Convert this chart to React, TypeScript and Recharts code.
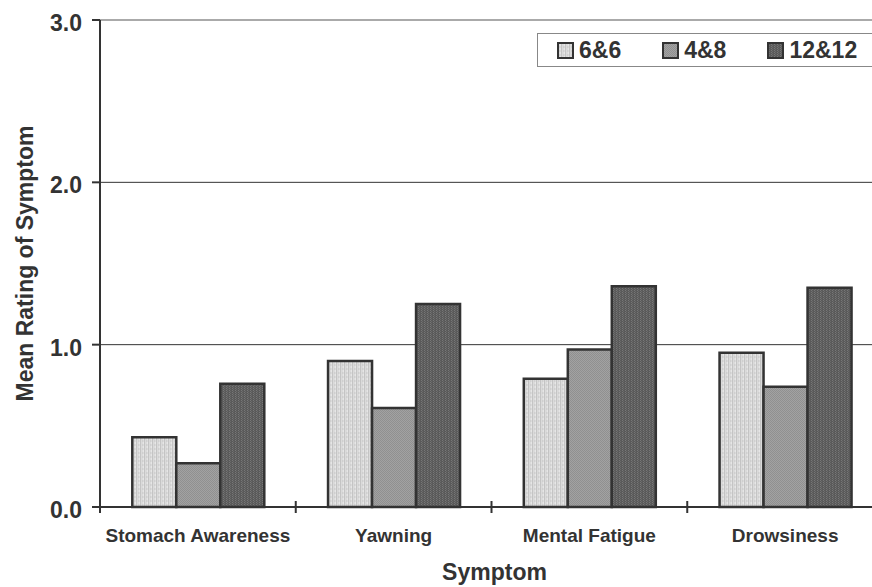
import React from 'react'
import {
  BarChart, Bar, XAxis, YAxis, CartesianGrid, Legend, ReferenceLine,
} from 'recharts'

const categories = ['Stomach Awareness', 'Yawning', 'Mental Fatigue', 'Drowsiness']
const series66 = [0.43, 0.9, 0.79, 0.95]
const series48 = [0.27, 0.61, 0.97, 0.74]
const series1212 = [0.76, 1.25, 1.36, 1.35]
const yTicks = [0, 1, 2, 3]

const seriesInfo = [
  { key: 's66', name: '6&6', fill: 'url(#p66)' },
  { key: 's48', name: '4&8', fill: 'url(#p48)' },
  { key: 's1212', name: '12&12', fill: 'url(#p1212)' },
]

const data = categories.map((c, i) => ({
  name: c,
  s66: series66[i],
  s48: series48[i],
  s1212: series1212[i],
}))

const FONT = '"Liberation Sans", Arial, sans-serif'
const INK = '#333'
const TICK_MARGIN = 22

function LegendBox() {
  return (
    <div
      style={{
        display: 'flex', alignItems: 'center', height: '100%',
        paddingLeft: 19, fontFamily: FONT, fontWeight: 'bold', fontSize: 23, color: INK,
      }}
    >
      {seriesInfo.map((s) => (
        <div key={s.key} style={{ display: 'flex', alignItems: 'center', marginRight: 41 }}>
          <svg width={17} height={17} style={{ marginRight: 5 }}>
            <rect x={1} y={1} width={15} height={15} fill={s.fill} stroke={INK} strokeWidth={2} />
          </svg>
          <span style={{ lineHeight: '23px' }}>{s.name}</span>
        </div>
      ))}
    </div>
  )
}

// category label, plus the little marks that cross the axis at the band edges
function CatTick(props: any) {
  const { x, y, payload, index, visibleTicksCount } = props
  const half = payload?.offset || 0
  const axisY = y - TICK_MARGIN
  const edges = [x - half]
  if (index === visibleTicksCount - 1) edges.push(x + half)
  return (
    <g>
      {edges.map((ex) => (
        <line key={ex} x1={ex} x2={ex} y1={axisY - 6} y2={axisY + 6} stroke={INK} strokeWidth={2} />
      ))}
      <text
        x={x} y={y} dy="0.71em" textAnchor="middle"
        fontFamily={FONT} fontWeight="bold" fontSize={19} fill={INK}
      >
        {payload.value}
      </text>
    </g>
  )
}

function YTitle(props: any) {
  const vb = props.viewBox || { x: 0, y: 20, width: 100, height: 487 }
  const cx = vb.x + 33
  const cy = vb.y + vb.height / 2
  return (
    <text
      x={cx} y={cy} transform={`rotate(-90, ${cx}, ${cy})`} textAnchor="middle"
      fontFamily={FONT} fontWeight="bold" fontSize={23} fill={INK}
    >
      Mean Rating of Symptom
    </text>
  )
}

function XTitle(props: any) {
  const vb = props.viewBox || { x: 100, y: 507, width: 783, height: 80 }
  return (
    <text
      x={vb.x + vb.width / 2 + 3} y={vb.y + 73} textAnchor="middle"
      fontFamily={FONT} fontWeight="bold" fontSize={23} fill={INK}
    >
      Symptom
    </text>
  )
}

export default function App() {
  return (
    <div style={{ position: 'absolute', left: 0, top: 0, width: 872, height: 587, overflow: 'hidden', background: '#fff' }}>
      <BarChart
        width={890} height={587} data={data}
        margin={{ top: 20, right: 7, bottom: 0, left: 0 }}
        barCategoryGap="16.5%" barGap={0}
      >
        <defs>
          <pattern id="p66" width={4} height={4} patternUnits="userSpaceOnUse">
            <rect width={4} height={4} fill="#dadada" />
            <rect x={0} width={1} height={4} fill="#c4c4c4" />
            <rect x={2} y={0} width={1} height={2} fill="#cfcfcf" />
            <rect x={3} y={2} width={1} height={2} fill="#e6e6e6" />
          </pattern>
          <pattern id="p48" width={2} height={2} patternUnits="userSpaceOnUse">
            <rect width={2} height={2} fill="#a2a2a2" />
            <rect x={0} y={0} width={1} height={1} fill="#909090" />
            <rect x={1} y={1} width={1} height={1} fill="#909090" />
          </pattern>
          <pattern id="p1212" width={3} height={2} patternUnits="userSpaceOnUse">
            <rect width={3} height={2} fill="#5a5a5a" />
            <rect x={1} y={0} width={1} height={1} fill="#777" />
            <rect x={2} y={1} width={1} height={1} fill="#6a6a6a" />
          </pattern>
        </defs>
        <CartesianGrid vertical={false} stroke={INK} strokeWidth={1} />
        <ReferenceLine y={3} stroke="#aaa" strokeWidth={2} />
        <XAxis
          dataKey="name" height={80} interval={0}
          axisLine={{ stroke: INK, strokeWidth: 2 }} tickLine={false} tickSize={0} tickMargin={TICK_MARGIN}
          tick={<CatTick />}
          label={{ content: <XTitle /> }}
        />
        <YAxis
          domain={[0, 3]} ticks={yTicks} width={100}
          tickFormatter={(v) => v.toFixed(1)}
          axisLine={{ stroke: INK, strokeWidth: 2 }}
          tickLine={{ stroke: INK, strokeWidth: 2 }} tickSize={8} tickMargin={10}
          tick={{ fontFamily: FONT, fontWeight: 'bold', fontSize: 23, fill: INK, dy: 3 }}
          label={{ content: <YTitle /> }}
        />
        <Legend
          layout="horizontal" verticalAlign="middle" align="center"
          wrapperStyle={{ left: 537, top: 33, width: 345, height: 34, border: '1.5px solid #888', background: '#fff', boxSizing: 'border-box' }}
          content={<LegendBox />}
        />
        {seriesInfo.map((s) => (
          <Bar
            key={s.key} dataKey={s.key} name={s.name}
            fill={s.fill} stroke={INK} strokeWidth={2.5} isAnimationActive={false}
          />
        ))}
      </BarChart>
    </div>
  )
}
